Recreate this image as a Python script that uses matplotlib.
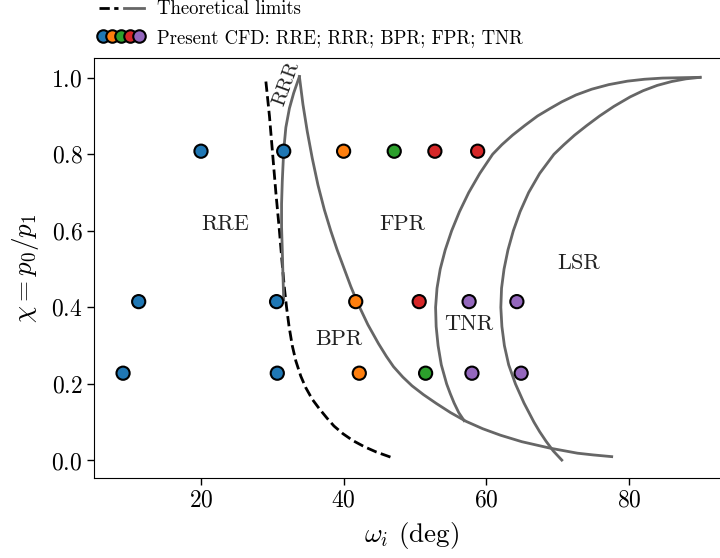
import matplotlib
matplotlib.use("Agg")
import matplotlib.pyplot as plt
from matplotlib.lines import Line2D
from matplotlib.legend_handler import HandlerTuple

plt.rcParams['font.family'] = 'serif'
plt.rcParams['font.serif'] = ['cmr10']
plt.rcParams['mathtext.fontset'] = 'cm'
plt.rcParams['axes.formatter.use_mathtext'] = True
plt.rcParams['axes.unicode_minus'] = False

# ---- data ----
colors = ['#1f77b4', '#ff7f0e', '#2ca02c', '#d62728', '#9467bd']
regime_names = ['RRE', 'RRR', 'BPR', 'FPR', 'TNR']

# CFD points: omega_i, chi, colour index (regime)
cfd_omega = [20.0, 31.6, 40.0, 47.1, 52.8, 58.8,
             11.26, 30.6, 41.7, 50.6, 57.6, 64.3,
             9.07, 30.7, 42.2, 51.5, 58.0, 64.9]
cfd_chi = [0.808, 0.808, 0.808, 0.808, 0.808, 0.808,
           0.415, 0.415, 0.415, 0.415, 0.415, 0.415,
           0.228, 0.228, 0.228, 0.228, 0.228, 0.228]
cfd_color_idx = [0, 0, 1, 2, 3, 3,
                 0, 0, 1, 3, 4, 4,
                 0, 0, 1, 2, 4, 4]

# theoretical limit: dashed line
dash_omega = [29.1, 29.6, 30.05, 30.5, 31.0, 31.45, 31.7, 32.0, 32.35, 32.8, 33.3,
              34.0, 34.7, 35.6, 36.6, 37.7, 38.65, 39.9, 41.3, 42.9, 44.6, 47.0]
dash_chi = [0.99, 0.90, 0.80, 0.70, 0.60, 0.50, 0.45, 0.40, 0.35, 0.30, 0.26,
            0.22, 0.19, 0.16, 0.135, 0.11, 0.09, 0.07, 0.052, 0.036, 0.022, 0.006]

# RRR left branch
rrr_omega = [31.6, 31.5, 31.4, 31.3, 31.3, 31.4, 31.6, 31.9, 32.4, 33.0, 33.8]
rrr_chi = [0.42, 0.48, 0.55, 0.61, 0.67, 0.73, 0.81, 0.87, 0.92, 0.96, 1.003]

# BPR / FPR boundary
bpr_omega = [33.8, 34.3, 34.9, 35.6, 36.4, 37.3, 38.2, 39.1, 40.0, 41.0, 42.0,
             43.4, 44.9, 46.0, 47.0, 48.3, 49.6, 51.2, 53.0, 55.0, 57.2, 59.5,
             62.0, 65.0, 69.0, 72.8, 75.0, 77.6]
bpr_chi = [1.003, 0.93, 0.86, 0.79, 0.72, 0.655, 0.60, 0.55, 0.505, 0.455, 0.41,
           0.355, 0.305, 0.272, 0.245, 0.218, 0.195, 0.172, 0.149, 0.125, 0.102, 0.083,
           0.066, 0.049, 0.032, 0.019, 0.0145, 0.010]

# FPR / TNR boundary
tnr_omega = [56.9, 56.15, 55.5, 54.95, 54.45, 53.7, 53.25, 52.98, 52.9, 53.1, 53.55,
             54.25, 55.15, 56.25, 57.55, 59.1, 60.9, 62.2, 63.7, 65.4, 67.2, 69.0,
             70.6, 72.6, 74.8, 77.2, 79.8, 82.2, 84.7, 87.3, 90.0]
tnr_chi = [0.104, 0.125, 0.15, 0.175, 0.20, 0.25, 0.30, 0.35, 0.40, 0.45, 0.50,
           0.55, 0.60, 0.65, 0.70, 0.75, 0.80, 0.825, 0.85, 0.875, 0.90, 0.92,
           0.937, 0.955, 0.97, 0.982, 0.991, 0.996, 0.999, 1.0, 1.001]

# TNR / LSR boundary
lsr_omega = [70.6, 69.4, 68.4, 67.5, 66.7, 65.3, 64.1, 63.15, 62.55, 62.2, 62.05,
             62.15, 62.5, 63.05, 63.8, 64.75, 65.95, 67.5, 69.5, 70.9, 72.4, 74.1,
             75.9, 77.9, 80.2, 82.0, 84.0, 86.0, 88.0, 90.0]
lsr_chi = [0.001, 0.025, 0.05, 0.075, 0.10, 0.15, 0.20, 0.25, 0.30, 0.35, 0.40,
           0.45, 0.50, 0.55, 0.60, 0.65, 0.70, 0.75, 0.80, 0.825, 0.85, 0.875,
           0.90, 0.925, 0.95, 0.966, 0.98, 0.99, 0.997, 1.001]

region_labels = ['RRE', 'FPR', 'LSR', 'TNR', 'BPR']
region_x = [23.4, 48.2, 72.9, 57.5, 39.3]
region_y = [0.618, 0.618, 0.516, 0.357, 0.318]

# ---- figure ----
fig = plt.figure(figsize=(7.2, 5.58), dpi=100)
ax = fig.add_axes([94.4/720, 80/558, 634.6/720, 420/558])

gray = '#666666'
ax.plot(dash_omega, dash_chi, color='black', ls='--', lw=2.0)
for xs, ys in [(rrr_omega, rrr_chi), (bpr_omega, bpr_chi),
               (tnr_omega, tnr_chi), (lsr_omega, lsr_chi)]:
    ax.plot(xs, ys, color=gray, lw=2.0, solid_joinstyle='round')

ax.scatter(cfd_omega, cfd_chi, c=[colors[i] for i in cfd_color_idx],
           s=90, edgecolors='black', linewidths=1.5, zorder=5)

for lab, x, y in zip(region_labels, region_x, region_y):
    ax.text(x, y, lab, fontsize=16, ha='center', va='center', color='#222222')
ax.text(32.0, 0.985, 'RRR', fontsize=15, ha='center', va='center',
        rotation=70, color='#222222')

ax.set_xlim(5.05, 94.05)
ax.set_ylim(-0.0458, 1.0515)
ax.set_xticks([20, 40, 60, 80])
ax.set_yticks([0.0, 0.2, 0.4, 0.6, 0.8, 1.0])
ax.tick_params(labelsize=17, length=5, width=1)
ax.set_xlabel(r'$\omega_i$ (deg)', fontsize=19.5, labelpad=6)
ax.set_ylabel(r'$\chi = p_0/p_1$', fontsize=19.5, labelpad=7)

h_lines = (Line2D([], [], color='black', ls='--', lw=2.0),
           Line2D([], [], color=gray, lw=2.0))
h_pts = tuple(Line2D([], [], ls='none', marker='o', markersize=9,
                     markerfacecolor=c, markeredgecolor='black',
                     markeredgewidth=1.5) for c in colors)
fig.legend([h_lines, h_pts],
           ['Theoretical limits', 'Present CFD: ' + '; '.join(regime_names)],
           handler_map={h_lines: HandlerTuple(ndivide=None, pad=0.32),
                        h_pts: HandlerTuple(ndivide=None, pad=0.0)},
           loc='upper left', bbox_to_anchor=(98.5/720, 0.999), frameon=False,
           borderaxespad=0.0, borderpad=0.0,
           fontsize=13.5, handlelength=2.4, labelspacing=0.55, handletextpad=0.7)

fig.savefig('out.png', dpi=100)
